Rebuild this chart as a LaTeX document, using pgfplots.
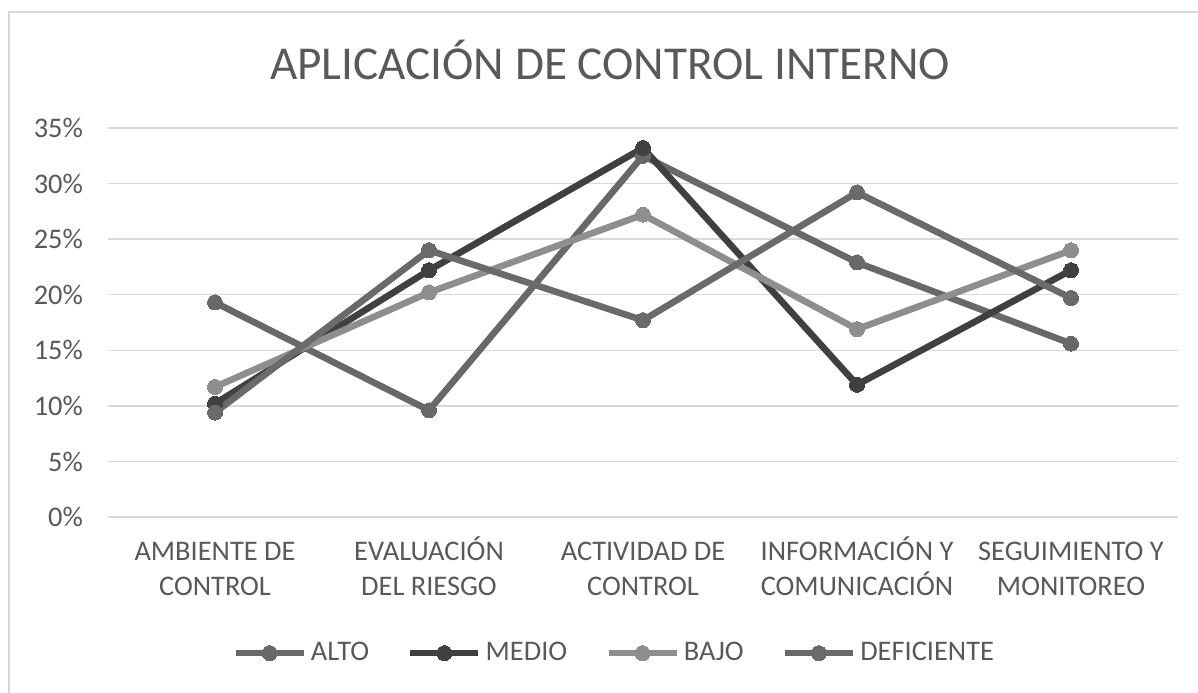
\documentclass[border=0pt]{standalone}
\usepackage{fontspec}
\setmainfont{Carlito}
\usepackage{pgfplots}
\pgfplotsset{compat=1.18}

\definecolor{txt}{HTML}{595959}
\definecolor{grd}{HTML}{D9D9D9}
\definecolor{alto}{HTML}{686868}
\definecolor{medio}{HTML}{404040}
\definecolor{bajo}{HTML}{8E8E8E}
\definecolor{defi}{HTML}{6A6A6A}

\begin{document}
\begin{tikzpicture}[x=1pt,y=1pt]
% chart frame (cropped on the right and bottom like the screenshot)
\draw[grd, line width=0.6pt] (4.5,-20) -- (4.5,340) -- (620,340);
\node[anchor=base, text=txt, font=\fontsize{23.6}{28}\selectfont] at (305,306)
  {APLICACIÓN DE CONTROL INTERNO};

\begin{axis}[
    at={(54pt,87.5pt)}, anchor=south west,
    scale only axis,
    width=535pt, height=194.5pt,
    xmin=-0.5, xmax=4.5,
    ymin=0, ymax=35,
    xtick={0,1,2,3,4},
    xticklabels={
      {\strut AMBIENTE DE\\CONTROL},
      {\strut EVALUACIÓN\\DEL RIESGO},
      {\strut ACTIVIDAD DE\\CONTROL},
      {\strut INFORMACIÓN Y\\COMUNICACIÓN},
      {\strut SEGUIMIENTO Y\\MONITOREO}},
    ytick={0,5,10,15,20,25,30,35},
    yticklabels={0\%,5\%,10\%,15\%,20\%,25\%,30\%,35\%},
    ymajorgrids,
    grid style={grd, line width=0.75pt},
    axis line style={draw=none},
    tick style={draw=none},
    ticklabel style={text=txt, font=\fontsize{14.2}{17.5}\selectfont},
    xticklabel style={align=center, anchor=north, yshift=-6pt},
    yticklabel style={anchor=east, xshift=-9pt},
    legend columns=4,
    legend style={at={(0.474,-0.35)}, anchor=center, draw=none, fill=none,
      font=\fontsize{14.2}{17.5}\selectfont, text=txt,
      /tikz/every even column/.append style={column sep=17pt}},
    legend image code/.code={
      \draw[mark repeat=2, mark phase=2, #1]
        plot coordinates {(0pt,0pt) (17pt,0pt) (34pt,0pt)};},
    every axis plot/.append style={line width=3.3pt, line join=round,
      mark=*, mark size=3.75pt},
]
\addplot[alto, mark options={solid, fill=alto, draw=alto, line width=0pt}] coordinates {
  (0,19.3) (1,9.6) (2,32.5) (3,22.9) (4,15.6)};
\addlegendentry{ALTO}
\addplot[medio, mark options={solid, fill=medio, draw=medio, line width=0pt}] coordinates {
  (0,10.2) (1,22.2) (2,33.2) (3,11.9) (4,22.2)};
\addlegendentry{MEDIO}
\addplot[bajo, mark options={solid, fill=bajo, draw=bajo, line width=0pt}] coordinates {
  (0,11.7) (1,20.2) (2,27.2) (3,16.9) (4,24.0)};
\addlegendentry{BAJO}
\addplot[defi, mark options={solid, fill=defi, draw=defi, line width=0pt}] coordinates {
  (0,9.4) (1,24.0) (2,17.7) (3,29.2) (4,19.7)};
\addlegendentry{DEFICIENTE}
\end{axis}

\pgfresetboundingbox
\useasboundingbox (0,0) rectangle (599,346);
\end{tikzpicture}
\end{document}
